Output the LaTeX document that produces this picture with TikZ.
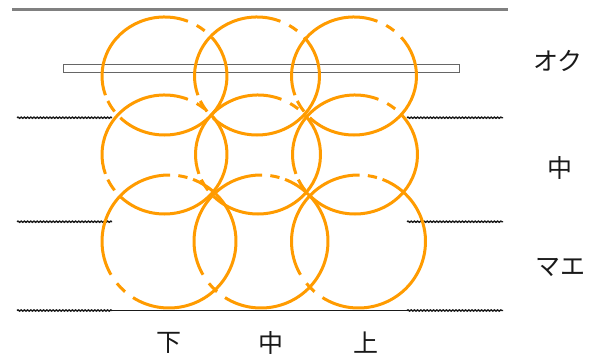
\documentclass[tikz,border=0pt]{standalone}
\usepackage{fontspec}
\newfontfamily\jpfont{Noto Sans CJK JP}
\usetikzlibrary{decorations.pathmorphing}
\definecolor{ring}{RGB}{255,155,0}
\definecolor{rail}{RGB}{128,128,128}
\definecolor{ink}{RGB}{25,25,25}
\tikzset{
  ringline/.style={draw=ring,line width=3pt},
  railline/.style={draw=rail,line width=3pt},
  band/.style={draw=rail!80!black,line width=1pt},
  wave/.style={draw=ink,line width=1.4pt,decorate,
    decoration={snake,amplitude=0.6pt,segment length=3.2pt}},
  floor/.style={draw=ink,line width=0.9pt},
  lbl/.style={font=\jpfont\fontsize{25}{25}\selectfont,text=ink,inner sep=0pt},
}
% arcs of one ring: start/end angles, the short dashes included
\def\upperarcs{68/199,205/217,225/401,50/59}
\def\lowerarcs{89/210,219/229,237.5/429,74/82}

\begin{document}
\begin{tikzpicture}[x=1pt,y=1pt]
  \useasboundingbox (0,0) rectangle (601,362);
  % rail and band
  \draw[railline] (12,352) -- (508,352);
  \draw[band] (63,297) rectangle (459,289);
  % wavy lines and floor
  \foreach \y in {244.3,140.3,51.5}{
    \draw[wave] (17,\y) -- (112,\y);
    \draw[wave] (407,\y) -- (503,\y);
  }
  \draw[floor] (112,51.5) -- (407,51.5);
  % rings, top and middle rows
  \foreach \cx/\cy/\ry in {164.5/286/59,257/286/59,354/286/59,
                           164.5/207.5/59.5,258/207.5/59.5,355/207.5/59.5}
    \foreach \s/\e in \upperarcs
      \draw[ringline] (\cx,\cy) ++(\s:62.5 and \ry)
        arc[start angle=\s,end angle=\e,x radius=62.5,y radius=\ry];
  % rings, bottom row
  \foreach \cx in {169,261,358.5}
    \foreach \s/\e in \lowerarcs
      \draw[ringline] (\cx,120.5) ++(\s:67 and 66.5)
        arc[start angle=\s,end angle=\e,x radius=67,y radius=66.5];
  % labels
  \node[lbl] (oku) at (558,301) {オク};
  \node[lbl] (naka) at (560,194) {中};
  \node[lbl] (mae) at (560,95) {マエ};
  \node[lbl] (shita) at (169,19) {下};
  \node[lbl] (chu) at (271,19) {中};
  \node[lbl] (ue) at (366,19) {上};
\end{tikzpicture}
\end{document}
